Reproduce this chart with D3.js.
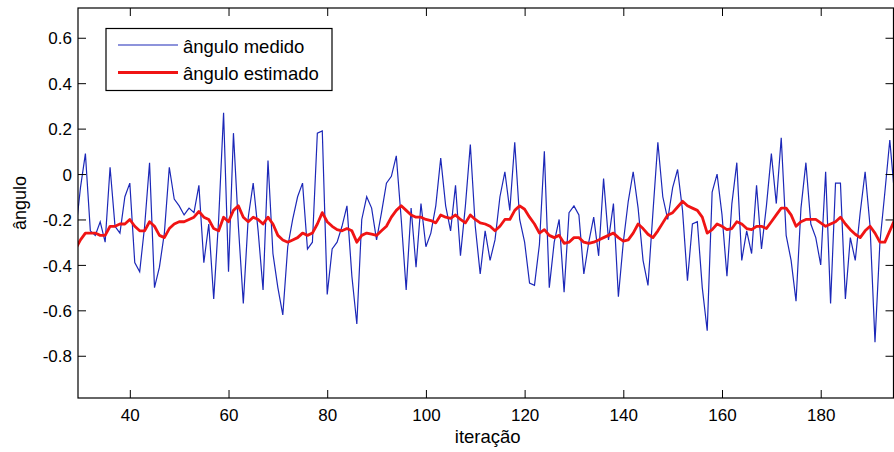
<!DOCTYPE html>
<html>
<head>
<meta charset="utf-8">
<script src="https://cdn.jsdelivr.net/npm/d3@7/dist/d3.min.js"></script>
<style>
  body { margin: 0; background: #fff; }
  svg text { font-family: "Liberation Sans", Arial, Helvetica, sans-serif; fill: #000; }
</style>
</head>
<body>
<svg id="chart" width="894" height="452"></svg>
<script>
// Iteration index of the first sample; one sample per iteration after that.
const firstIteration = 29;

// Measured angle (blue trace)
const anguloMedido = [
  -0.26, -0.06, 0.09, -0.25, -0.27, -0.21, -0.30, 0.03, -0.23, -0.26,
  -0.10, -0.04, -0.39, -0.43, -0.23, 0.05, -0.50, -0.41, -0.26, 0.03,
  -0.11, -0.14, -0.18, -0.15, -0.17, -0.05, -0.39, -0.22, -0.55, -0.20,
  0.27, -0.43, 0.18, -0.23, -0.57, -0.19, -0.04, -0.25, -0.51, 0.06,
  -0.35, -0.50, -0.62, -0.32, -0.20, -0.10, -0.04, -0.33, -0.30, 0.18,
  0.19, -0.53, -0.33, -0.30, -0.23, -0.14, -0.45, -0.66, -0.20, -0.10,
  -0.15, -0.29, -0.17, -0.04, -0.01, 0.08, -0.20, -0.51, -0.15, -0.41,
  -0.13, -0.32, -0.26, -0.14, 0.07, -0.14, -0.25, -0.05, -0.36, -0.14,
  0.13, -0.23, -0.44, -0.25, -0.38, -0.29, -0.10, 0.01, -0.16, 0.14,
  -0.20, -0.30, -0.48, -0.49, -0.31, 0.10, -0.50, -0.30, -0.20, -0.52,
  -0.17, -0.14, -0.18, -0.44, -0.30, -0.19, -0.36, -0.02, -0.29, -0.13,
  -0.54, -0.30, -0.12, 0.01, -0.15, -0.38, -0.49, -0.17, 0.14, -0.10,
  -0.20, -0.06, 0.02, -0.16, -0.47, -0.22, -0.21, -0.50, -0.69, -0.08,
  0.00, -0.18, -0.45, -0.13, 0.05, -0.38, -0.25, -0.35, -0.05, -0.33,
  -0.14, 0.09, -0.13, 0.16, -0.27, -0.38, -0.56, -0.15, 0.05, -0.22,
  -0.28, -0.40, 0.01, -0.57, -0.04, -0.04, -0.55, -0.28, -0.38, -0.17,
  0.01, -0.23, -0.74, -0.30, -0.08, 0.15, -0.10
];

// Estimated angle (red trace)
const anguloEstimado = [
  -0.33, -0.29, -0.26, -0.26, -0.26, -0.27, -0.27, -0.23, -0.23, -0.22,
  -0.22, -0.20, -0.23, -0.25, -0.25, -0.21, -0.23, -0.27, -0.28, -0.24,
  -0.22, -0.21, -0.21, -0.20, -0.19, -0.165, -0.19, -0.20, -0.24, -0.25,
  -0.19, -0.21, -0.16, -0.14, -0.19, -0.21, -0.19, -0.20, -0.22, -0.19,
  -0.22, -0.27, -0.29, -0.30, -0.29, -0.28, -0.26, -0.27, -0.26, -0.22,
  -0.17, -0.21, -0.23, -0.245, -0.25, -0.24, -0.25, -0.30, -0.27, -0.26,
  -0.265, -0.27, -0.25, -0.23, -0.19, -0.16, -0.14, -0.16, -0.18, -0.19,
  -0.19, -0.20, -0.205, -0.215, -0.18, -0.19, -0.195, -0.18, -0.20, -0.215,
  -0.18, -0.20, -0.215, -0.22, -0.23, -0.25, -0.23, -0.20, -0.20, -0.16,
  -0.14, -0.155, -0.19, -0.22, -0.26, -0.245, -0.27, -0.28, -0.27, -0.305,
  -0.30, -0.28, -0.28, -0.30, -0.305, -0.30, -0.29, -0.28, -0.27, -0.26,
  -0.28, -0.295, -0.29, -0.26, -0.22, -0.24, -0.265, -0.28, -0.25, -0.215,
  -0.18, -0.17, -0.145, -0.12, -0.14, -0.15, -0.16, -0.19, -0.26, -0.245,
  -0.22, -0.23, -0.245, -0.24, -0.21, -0.22, -0.24, -0.245, -0.23, -0.23,
  -0.24, -0.21, -0.18, -0.15, -0.15, -0.18, -0.23, -0.21, -0.20, -0.20,
  -0.20, -0.215, -0.23, -0.22, -0.21, -0.19, -0.22, -0.245, -0.265, -0.28,
  -0.25, -0.23, -0.26, -0.30, -0.30, -0.25, -0.20
];

const xTicks = [40, 60, 80, 100, 120, 140, 160, 180];
const yTicks = [-0.8, -0.6, -0.4, -0.2, 0, 0.2, 0.4, 0.6];
const yTickLabels = ["-0.8", "-0.6", "-0.4", "-0.2", "0", "0.2", "0.4", "0.6"];

const seriesNames = ["ângulo medido", "ângulo estimado"];
const xLabel = "iteração";
const yLabel = "ângulo";

// Plot frame
const plot = { left: 78, top: 8, right: 893.5, bottom: 398 };
const colors = { medido: "#1c28b8", estimado: "#f01414" };

const svg = d3.select("#chart");

const x = d3.scaleLinear().domain([29.5, 194.75]).range([plot.left, plot.right]);
const y = d3.scaleLinear().domain([-0.986, 0.731]).range([plot.bottom, plot.top]);

svg.append("rect")
  .attr("width", 894).attr("height", 452).attr("fill", "#fff");

svg.append("defs").append("clipPath").attr("id", "plot-clip")
  .append("rect")
  .attr("x", plot.left).attr("y", plot.top)
  .attr("width", plot.right - plot.left).attr("height", plot.bottom - plot.top);

const toPoints = arr => arr.map((v, i) => ({ it: firstIteration + i, v }));

const line = d3.line().x(d => x(d.it)).y(d => y(d.v));

const traces = svg.append("g").attr("clip-path", "url(#plot-clip)");

traces.append("path")
  .datum(toPoints(anguloMedido))
  .attr("d", line)
  .attr("fill", "none")
  .attr("stroke", colors.medido)
  .attr("stroke-width", 1.2)
  .attr("stroke-linejoin", "miter");

traces.append("path")
  .datum(toPoints(anguloEstimado))
  .attr("d", line)
  .attr("fill", "none")
  .attr("stroke", colors.estimado)
  .attr("stroke-width", 2.8)
  .attr("stroke-linejoin", "round");

// Axes: inward ticks on all four sides, labels on bottom and left
const tickLen = 8;

const bottomAxis = svg.append("g")
  .attr("transform", `translate(0,${plot.bottom})`)
  .call(d3.axisBottom(x).tickValues(xTicks).tickSizeInner(-tickLen).tickSizeOuter(0).tickPadding(0));
bottomAxis.selectAll("text")
  .attr("y", 23).attr("dy", 0)
  .style("font-size", "17px");

const topAxis = svg.append("g")
  .attr("transform", `translate(0,${plot.top})`)
  .call(d3.axisTop(x).tickValues(xTicks).tickSizeInner(-tickLen).tickSizeOuter(0).tickFormat(""));

const leftAxis = svg.append("g")
  .attr("transform", `translate(${plot.left},0)`)
  .call(d3.axisLeft(y).tickValues(yTicks).tickSizeInner(-tickLen).tickSizeOuter(0)
    .tickFormat((d, i) => yTickLabels[i]));
leftAxis.selectAll("text")
  .attr("x", -6).attr("dy", "0.36em")
  .style("font-size", "17px");

const rightAxis = svg.append("g")
  .attr("transform", `translate(${plot.right},0)`)
  .call(d3.axisRight(y).tickValues(yTicks).tickSizeInner(-tickLen).tickSizeOuter(0).tickFormat(""));

svg.selectAll(".domain").remove();
svg.selectAll(".tick line").attr("stroke", "#000").attr("stroke-width", 1);

svg.append("rect")
  .attr("x", plot.left).attr("y", plot.top)
  .attr("width", plot.right - plot.left).attr("height", plot.bottom - plot.top)
  .attr("fill", "none").attr("stroke", "#000").attr("stroke-width", 1.2);

// Axis titles
svg.append("text")
  .attr("x", (plot.left + plot.right) / 2 + 2)
  .attr("y", 443)
  .attr("text-anchor", "middle")
  .style("font-size", "18.5px")
  .text(xLabel);

svg.append("text")
  .attr("transform", `translate(26,${(plot.top + plot.bottom) / 2}) rotate(-90)`)
  .attr("text-anchor", "middle")
  .style("font-size", "18px")
  .text(yLabel);

// Legend
const legend = svg.append("g");
legend.append("rect")
  .attr("x", 106).attr("y", 28.5).attr("width", 226).attr("height", 62)
  .attr("fill", "#fff").attr("stroke", "#000").attr("stroke-width", 1.2);

const legendRows = [
  { name: seriesNames[0], color: colors.medido, width: 1.2, y: 45 },
  { name: seriesNames[1], color: colors.estimado, width: 2.8, y: 72.5 }
];

legendRows.forEach(r => {
  legend.append("line")
    .attr("x1", 118).attr("x2", 178).attr("y1", r.y).attr("y2", r.y)
    .attr("stroke", r.color).attr("stroke-width", r.width);
  legend.append("text")
    .attr("x", 183).attr("y", r.y + 7.5)
    .style("font-size", "18.5px")
    .text(r.name);
});
</script>
</body>
</html>
